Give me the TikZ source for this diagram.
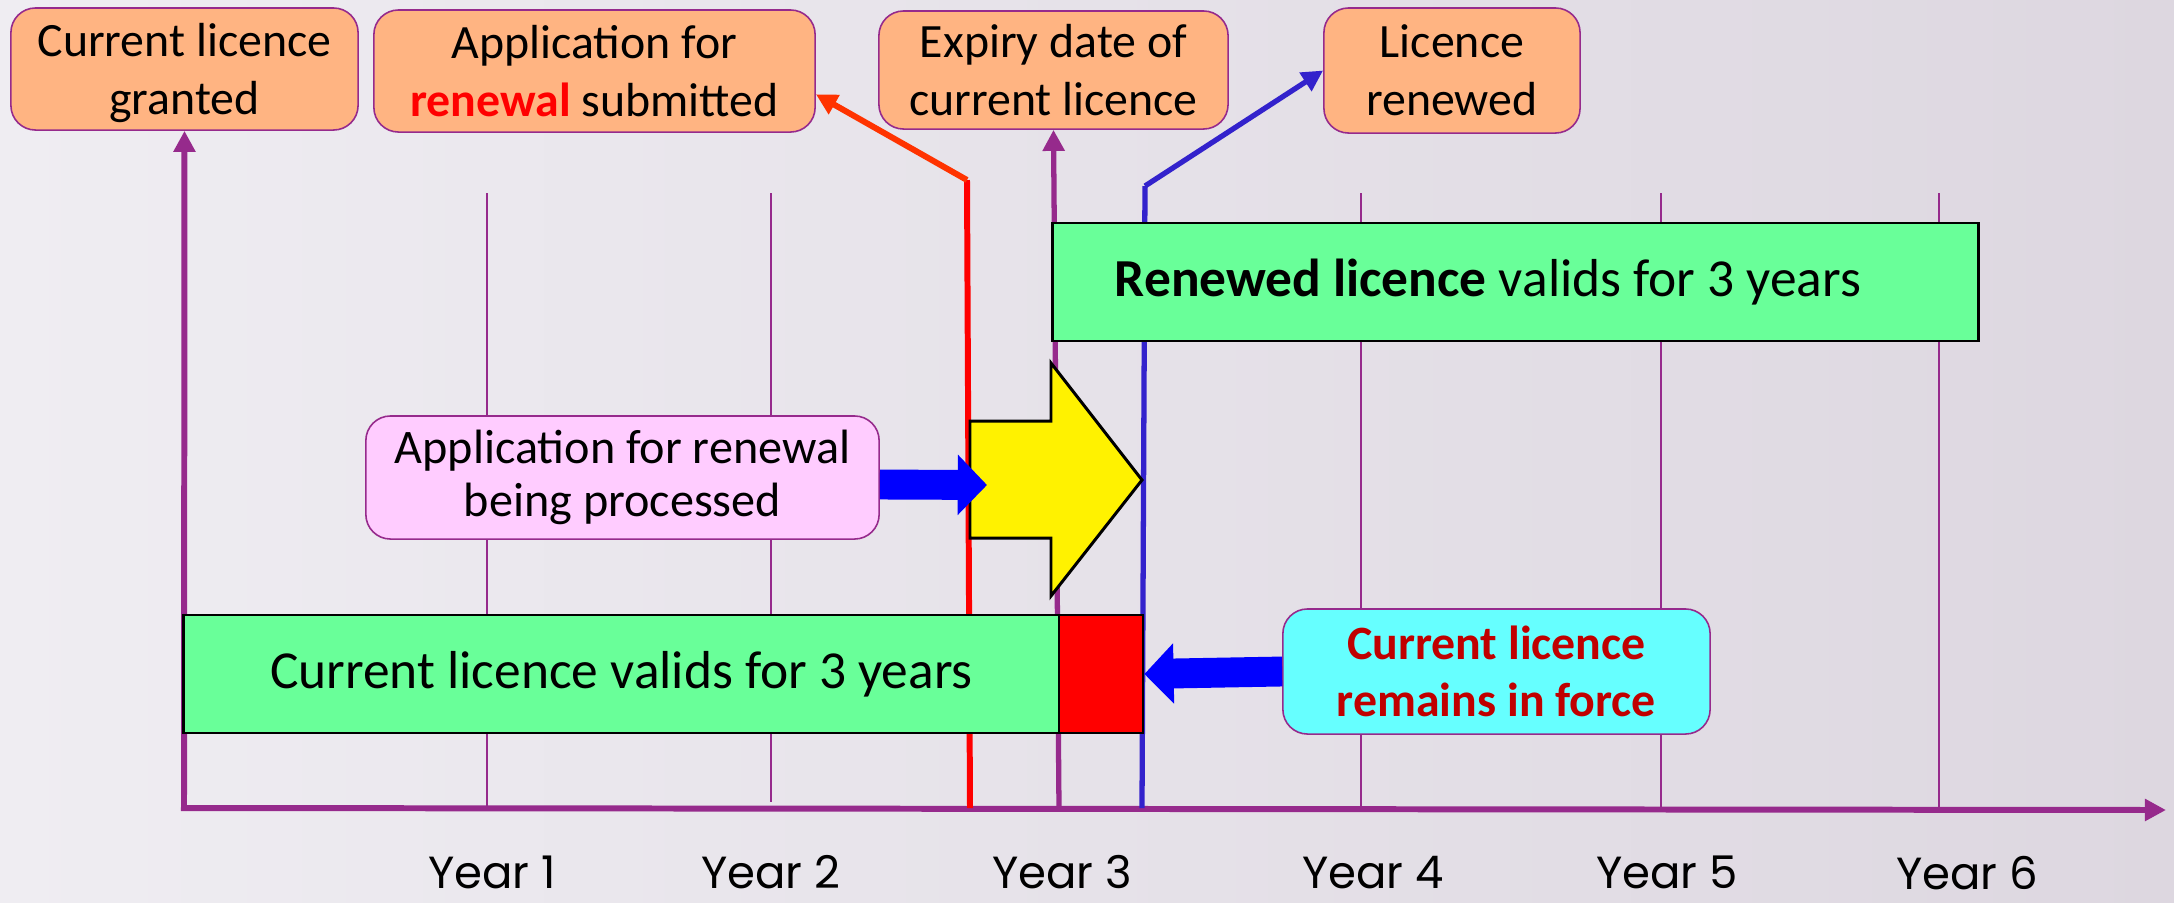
\documentclass[tikz,border=0pt]{standalone}
\usepackage{fontspec}
\setmainfont{Carlito}
\newfontfamily\yearfont{Poppins}
\usetikzlibrary{arrows.meta}

\definecolor{axispurple}{RGB}{150,42,140}
\definecolor{eventorange}{RGB}{255,180,130}
\definecolor{validgreen}{RGB}{105,255,153}
\definecolor{processpink}{RGB}{255,204,255}
\definecolor{forcecyan}{RGB}{102,255,255}
\definecolor{renewblue}{RGB}{51,34,204}
\definecolor{submitred}{RGB}{255,51,0}
\definecolor{forcered}{RGB}{192,0,0}
\definecolor{bglight}{RGB}{239,237,242}
\definecolor{bgdark}{RGB}{221,215,224}

\begin{document}
\begin{tikzpicture}[
    x = 0.01cm,
    y = -0.01cm,
    >={Triangle[length=6pt, width=6pt]},
    event/.style = {draw=axispurple, line width=0.45pt, fill=eventorange,
              rounded corners=7pt, align=center, inner sep=0pt, text depth=0pt,
              font=\fontsize{13.6}{16.5}\selectfont},
    period/.style = {draw=black, line width=0.8pt, fill=validgreen,
              inner sep=0pt, minimum height=1.18cm,
              font=\fontsize{15.2}{17}\selectfont},
    note/.style = {draw=axispurple, line width=0.45pt, rounded corners=7pt,
              align=center, inner sep=0pt},
    timeaxis/.style = {axispurple, line width=1.7pt},
    yearline/.style = {axispurple, line width=0.55pt},
    push/.style = {blue, line width=8.5pt,
              -{Triangle[length=8.3pt, width=16.7pt]}},
    year/.style = {anchor=base, inner sep=0pt, text depth=0pt,
              font=\fontsize{12.8}{14}\yearfont},
    ]

\useasboundingbox (0,0) rectangle (2174,902);
\shade[left color=bglight, right color=bgdark] (0,0) rectangle (2174,902);

\draw[yearline] (487,193) -- (487,808);
\draw[yearline] (771,193) -- (771,802);
\draw[yearline] (1361,193) -- (1361,808);
\draw[yearline] (1661,193) -- (1661,808);
\draw[yearline] (1939,193) -- (1939,808);

\node[event, minimum width=3.47cm, minimum height=1.22cm] (granted) at (184.5,69) {Current licence\\granted};
\node[event, minimum width=4.41cm, minimum height=1.22cm] (submitted) at (594.5,71) {Application for\\{\bfseries\color{red}renewal} submitted};
\node[event, minimum width=3.49cm, minimum height=1.18cm] (expiry) at (1053.5,70) {Expiry date of\\current licence};
\node[event, minimum width=2.56cm, minimum height=1.25cm] (renewed) at (1452,70.5) {Licence\\renewed};

\coordinate (origin) at (184,808);
\coordinate (timeend) at (2166,810);
\coordinate (yearthree) at (1059,808);
\coordinate (redfoot) at (970,808);
\coordinate (redknee) at (967,180);
\coordinate (bluefoot) at (1142,808);
\coordinate (blueknee) at (1145,186);

\draw[timeaxis, ->] (origin) -- (granted.south);
\draw[timeaxis, ->] ([xshift=-0.03cm]origin) -- (timeend);
\draw[timeaxis, line width=1.5pt, ->] (yearthree) -- (expiry.south);
\draw[red, line width=1.7pt] (redfoot) -- (redknee);
\draw[submitred, line width=1.7pt, ->] (redknee) -- (submitted.-6);
\draw[renewblue, line width=1.5pt] (bluefoot) -- (blueknee);
\draw[renewblue, line width=1.5pt, ->] (blueknee) -- (renewed.west);

\node[period, text width=8.01cm, inner xsep=0.62cm, align=flush left] (renewbar) at (1515.5,282) {\textbf{Renewed licence} valids for 3 years};
\node[period, minimum width=8.75cm] (currentbar) at (621.5,674) {Current licence valids for 3 years};
\node[period, fill=red, minimum width=0.84cm] (extension) at (1101,674) {};

\draw[line width=0.85pt, fill=yellow] (970,421) -- (1051,421) -- (1051,363) -- (1142,480)
    -- (1051,596) -- (1051,538) -- (970,538) -- cycle;
\coordinate (handover) at (987,485);

\node[note, fill=processpink, minimum width=5.13cm, minimum height=1.23cm,
    font=\fontsize{13.7}{15.2}\selectfont] (processing) at (622.5,477.5) {Application for renewal\\being processed};
\node[note, fill=forcecyan, minimum width=4.27cm, minimum height=1.25cm, text=forcered,
    font=\fontsize{13.6}{16.3}\selectfont\bfseries] (inforce) at (1496.5,671.5) {Current licence\\remains in force};

\draw[push] ([yshift=-0.07cm]processing.east) -- (handover);
\draw[push] (inforce.west) -- (extension.east);

\node[year] (year1) at (492,888) {Year 1};
\node[year] (year2) at (771,888) {Year 2};
\node[year] (year3) at (1062,888) {Year 3};
\node[year] (year4) at (1373,888) {Year 4};
\node[year] (year5) at (1667,888) {Year 5};
\node[year] (year6) at (1967,889) {Year 6};

\end{tikzpicture}
\end{document}
